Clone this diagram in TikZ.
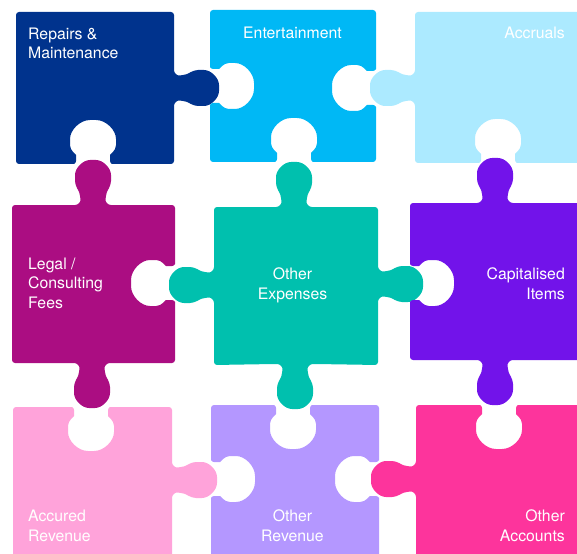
\documentclass[tikz,border=0pt]{standalone}
\usepackage{fontspec}
\setmainfont{TeX Gyre Heros}
\definecolor{cBlue}{HTML}{00338D}
\definecolor{cPacific}{HTML}{00B8F5}
\definecolor{cLightBlue}{HTML}{ACEAFF}
\definecolor{cDarkPink}{HTML}{AB0D82}
\definecolor{cGreen}{HTML}{00C0AE}
\definecolor{cPurple}{HTML}{7213EA}
\definecolor{cLightPink}{HTML}{FFA3DA}
\definecolor{cLightPurple}{HTML}{B497FF}
\definecolor{cPink}{HTML}{FD349C}
% side mappings: (u along travel, v outward)
\newcommand\pzT[4]{({#1+(#3)},{#2-(#4)})}
\newcommand\pzR[4]{({#1+(#4)},{#2+(#3)})}
\newcommand\pzB[4]{({#1-(#3)},{#2+(#4)})}
\newcommand\pzL[4]{({#1-(#4)},{#2-(#3)})}
\newcommand\pztab[3]{ -- #1{#2}{#3}{-21}{0}
 .. controls #1{#2}{#3}{-15}{0} and #1{#2}{#3}{-12}{3} .. #1{#2}{#3}{-13}{9}
 .. controls #1{#2}{#3}{-14}{14} and #1{#2}{#3}{-18}{19} .. #1{#2}{#3}{-18}{27}
 .. controls #1{#2}{#3}{-18}{37} and #1{#2}{#3}{-10}{45} .. #1{#2}{#3}{0}{45}
 .. controls #1{#2}{#3}{10}{45} and #1{#2}{#3}{18}{37} .. #1{#2}{#3}{18}{27}
 .. controls #1{#2}{#3}{18}{19} and #1{#2}{#3}{14}{14} .. #1{#2}{#3}{13}{9}
 .. controls #1{#2}{#3}{12}{3} and #1{#2}{#3}{15}{0} .. #1{#2}{#3}{21}{0} }
\newcommand\pzhole[3]{ -- #1{#2}{#3}{-22}{0}
 .. controls #1{#2}{#3}{-18}{0} and #1{#2}{#3}{-17}{-2} .. #1{#2}{#3}{-17}{-6}
 .. controls #1{#2}{#3}{-17}{-10} and #1{#2}{#3}{-23}{-13} .. #1{#2}{#3}{-23}{-22}
 .. controls #1{#2}{#3}{-23}{-34} and #1{#2}{#3}{-13}{-44} .. #1{#2}{#3}{0}{-44}
 .. controls #1{#2}{#3}{13}{-44} and #1{#2}{#3}{23}{-34} .. #1{#2}{#3}{23}{-22}
 .. controls #1{#2}{#3}{23}{-13} and #1{#2}{#3}{17}{-10} .. #1{#2}{#3}{17}{-6}
 .. controls #1{#2}{#3}{17}{-2} and #1{#2}{#3}{18}{0} .. #1{#2}{#3}{22}{0} }
\begin{document}
\begin{tikzpicture}[x=1pt,y=-1pt,
  piece/.style={rounded corners=3pt},
  lbl/.style={text=white, font=\fontsize{15.8}{19.5}\selectfont, inner sep=0pt}]
\useasboundingbox (0,0) rectangle (577,553);
\clip (0,0) rectangle (577,553);
% row 1
\edef\pzpath{(16,12) -- (174,12) \pztab\pzR{174}{88} -- (174,164) \pzhole\pzB{93}{164} -- (16,164) -- cycle}
\fill[piece, cBlue] \pzpath;
\edef\pzpath{(210,10) -- (376,10) \pzhole\pzR{376}{88} -- (376,162) \pzhole\pzB{294}{162} -- (210,162) \pzhole\pzL{210}{86} -- cycle}
\fill[piece, cPacific] \pzpath;
\edef\pzpath{(415,12) -- (585,12) -- (585,163) \pzhole\pzB{498}{163} -- (415,163) \pztab\pzL{415}{88} -- cycle}
\fill[piece, cLightBlue] \pzpath;
% row 2
\edef\pzpath{(12,205) \pztab\pzT{93}{205} -- (175,205) \pzhole\pzR{175}{283} -- (175,363) \pztab\pzB{92}{363} -- (12,363) -- cycle}
\fill[piece, cDarkPink] \pzpath;
\edef\pzpath{(214,207) \pztab\pzT{294}{207} -- (378,207) \pztab\pzR{378}{284} -- (378,365) \pztab\pzB{295}{364} -- (214,365) \pztab\pzL{214}{285} -- cycle}
\fill[piece, cGreen] \pzpath;
\edef\pzpath{(410,203) \pztab\pzT{495}{203} -- (585,203) -- (585,360) \pztab\pzB{495}{360} -- (410,360) \pzhole\pzL{410}{283} -- cycle}
\fill[piece, cPurple] \pzpath;
% row 3
\edef\pzpath{(13,407) \pzhole\pzT{91}{407} -- (172,407) \pztab\pzR{172}{480} -- (172,565) -- (13,565) -- cycle}
\fill[piece, cLightPink] \pzpath;
\edef\pzpath{(211,405) \pzhole\pzT{293}{405} -- (379,405) \pzhole\pzR{379}{479} -- (379,565) -- (211,565) \pzhole\pzL{211}{479} -- cycle}
\fill[piece, cLightPurple] \pzpath;
\edef\pzpath{(416,405) \pzhole\pzT{499}{405} -- (585,405) -- (585,565) -- (416,565) \pztab\pzL{416}{479} -- cycle}
\fill[piece, cPink] \pzpath;
% labels (base anchor = last line's baseline)
\node[lbl, anchor=base west, align=left] (t1) at (28,59) {Repairs \&\\Maintenance};
\node[lbl, anchor=base, align=center] (t2) at (292.5,39) {Entertainment};
\node[lbl, anchor=base east, align=right] (t3) at (565,39) {Accruals};
\node[lbl, anchor=base west, align=left] (t4) at (28,308) {Legal /\\Consulting\\Fees};
\node[lbl, anchor=base, align=center] (t5) at (292.5,299) {Other\\Expenses};
\node[lbl, anchor=base east, align=right] (t6) at (565,299) {Capitalised\\Items};
\node[lbl, anchor=base west, align=left] (t7) at (28,541) {Accured\\Revenue};
\node[lbl, anchor=base, align=center] (t8) at (292.5,541) {Other\\Revenue};
\node[lbl, anchor=base east, align=right] (t9) at (565,541) {Other\\Accounts};
\end{tikzpicture}
\end{document}
